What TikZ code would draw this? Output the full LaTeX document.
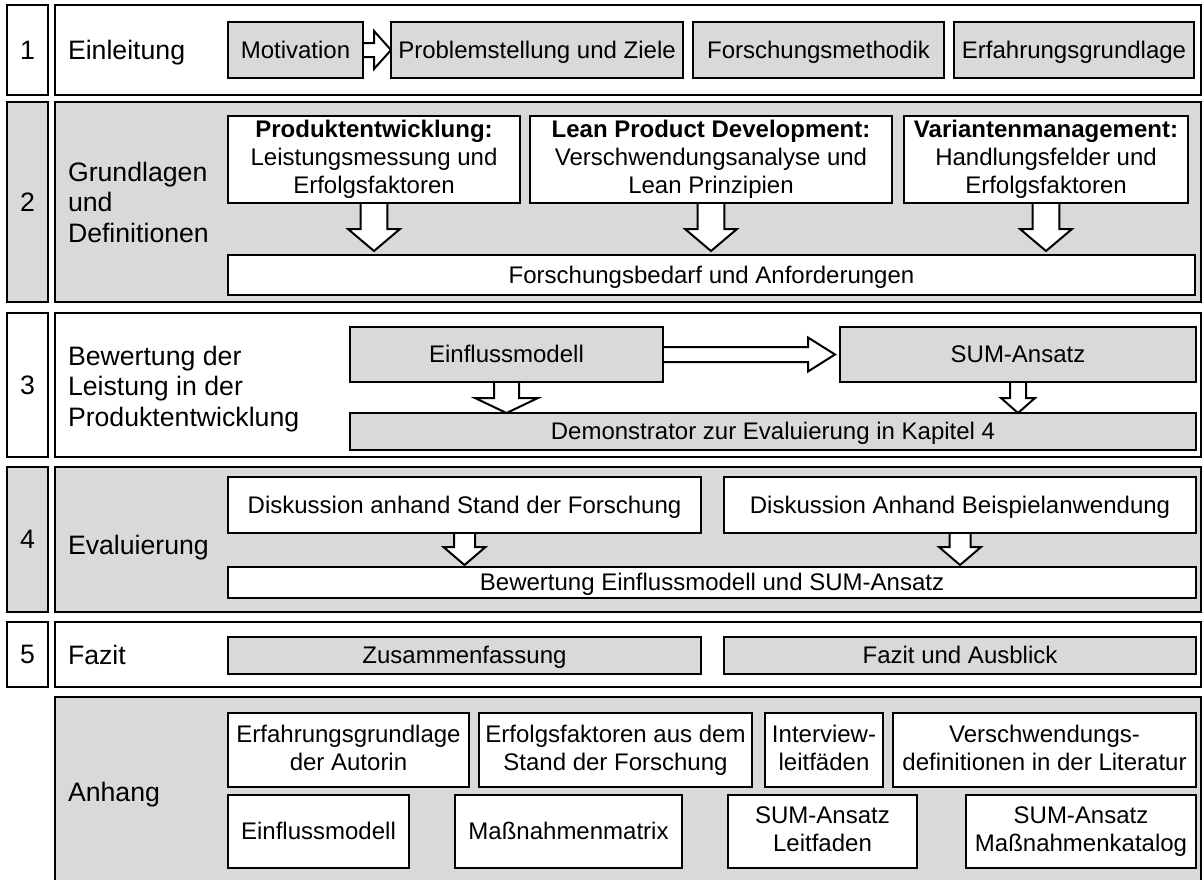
\documentclass[tikz,border=0pt]{standalone}
\usepackage{fontspec}
\setmainfont{Liberation Sans}
\usetikzlibrary{calc}
\definecolor{panelgray}{RGB}{217,217,217}

% struts giving every line the same ascent/descent so text sits centred
\newcommand\mystrut{\rule[-5.2pt]{0pt}{27.2pt}}
\newcommand\bigstrut{\rule[-5.8pt]{0pt}{30.2pt}}

% rectangle node from its corner coordinates: style, name, x1, y1, x2, y2, text
\newcommand\boxnode[7]{%
  \node[#1, minimum width={#5-#3}, minimum height={#6-#4}] (#2)
    at ({(#3+#5)/2},{(#4+#6)/2}) {#7};}

% white block arrow pointing down: start, tip, half shaft, half head, head length
\newcommand\downblock[5]{%
  \draw[blockarrow] let \p1=(#1), \p2=(#2) in
    (\x1-#3pt,\y1-1pt) -- (\x1-#3pt,\y2+#5pt) -- (\x1-#4pt,\y2+#5pt) --
    (\x1,\y2) -- (\x1+#4pt,\y2+#5pt) -- (\x1+#3pt,\y2+#5pt) -- (\x1+#3pt,\y1-1pt);}

% white block arrow pointing right: start, tip, half shaft, half head, head length
\newcommand\rightblock[5]{%
  \draw[blockarrow] let \p1=(#1), \p2=(#2) in
    (\x1+1pt,\y1+#3pt) -- (\x2-#5pt,\y1+#3pt) -- (\x2-#5pt,\y1+#4pt) --
    (\x2,\y1) -- (\x2-#5pt,\y1-#4pt) -- (\x2-#5pt,\y1-#3pt) -- (\x1+1pt,\y1-#3pt);}

\tikzset{
  every node/.style={inner sep=0pt, outer sep=0pt,
    font=\fontsize{24}{28}\selectfont, text=black},
  frame/.style={draw=black, line width=2pt, rectangle},
  whiteframe/.style={frame, fill=white},
  grayframe/.style={frame, fill=panelgray},
  whitebox/.style={frame, fill=white, align=center,
    execute at begin node=\mystrut, execute at end node=\mystrut},
  graybox/.style={whitebox, fill=panelgray},
  numbox/.style={frame, fill=#1, font=\fontsize{26.67}{30.7}\selectfont,
    execute at begin node=\bigstrut},
  lbl/.style={anchor=west, align=left, font=\fontsize{26.67}{30.7}\selectfont,
    execute at begin node=\bigstrut, execute at end node=\bigstrut},
  blockarrow/.style={draw=black, fill=white, line width=2pt, line join=miter},
}

\begin{document}
\begin{tikzpicture}[x=1pt, y=-1pt]
\useasboundingbox (0,0) rectangle (1204,879);
\fill[white] (0,0) rectangle (1204,879);

% ---- chapter frames ----
\boxnode{numbox=white}{n1}{7}{5}{48}{95}{1}
\boxnode{whiteframe}{r1}{55}{5}{1201}{95}{}
\boxnode{numbox=panelgray}{n2}{7}{102}{48}{302}{2}
\boxnode{grayframe}{r2}{55}{102}{1201}{302}{}
\boxnode{numbox=white}{n3}{7}{313}{48}{457}{3}
\boxnode{whiteframe}{r3}{55}{313}{1201}{457}{}
\boxnode{numbox=panelgray}{n4}{7}{467}{48}{612}{4}
\boxnode{grayframe}{r4}{55}{467}{1201}{612}{}
\boxnode{numbox=white}{n5}{7}{622}{48}{687}{5}
\boxnode{whiteframe}{r5}{55}{622}{1201}{687}{}
\boxnode{grayframe}{an}{55}{697}{1201}{905}{}

% ---- chapter titles ----
\node[lbl] (t1) at (68,50) {Einleitung};
\node[lbl] (t2) at (68,205) {Grundlagen\\und\\Definitionen};
\node[lbl] (t3) at (68,389) {Bewertung der\\Leistung in der\\Produktentwicklung};
\node[lbl] (t4) at (68,545) {Evaluierung};
\node[lbl] (t5) at (68,655) {Fazit};
\node[lbl] (t6) at (68,792) {Anhang};

% ---- 1 Einleitung ----
\boxnode{graybox}{mot}{228}{22}{363}{78}{Motivation}
\boxnode{graybox}{prob}{391}{22}{683}{78}{Problemstellung und Ziele}
\boxnode{graybox}{meth}{693}{22}{944}{78}{Forschungsmethodik}
\boxnode{graybox}{erf}{954}{22}{1194}{78}{Erfahrungsgrundlage}
\rightblock{mot.east}{prob.west}{7}{19}{17}

% ---- 2 Grundlagen ----
\boxnode{whitebox}{pe}{228}{116}{520}{203}{\textbf{Produktentwicklung:}\\Leistungsmessung und\\Erfolgsfaktoren}
\boxnode{whitebox}{lpd}{530}{116}{892}{203}{\textbf{Lean Product Development:}\\Verschwendungsanalyse und\\Lean Prinzipien}
\boxnode{whitebox}{vm}{904}{116}{1188}{203}{\textbf{Variantenmanagement:}\\Handlungsfelder und\\Erfolgsfaktoren}
\boxnode{whitebox}{fb}{228}{255}{1195}{295}{Forschungsbedarf und Anforderungen}
\downblock{pe.south}{$(fb.north -| pe.south)+(0,-4)$}{13.3}{26}{22}
\downblock{lpd.south}{$(fb.north -| lpd.south)+(0,-4)$}{13.3}{26}{22}
\downblock{vm.south}{$(fb.north -| vm.south)+(0,-4)$}{13.3}{26}{22}

% ---- 3 Bewertung ----
\boxnode{graybox}{einf}{350}{327}{663}{382}{Einflussmodell}
\boxnode{graybox}{sum}{840}{327}{1196}{382}{SUM-Ansatz}
\boxnode{graybox}{demo}{350}{413}{1196}{450}{Demonstrator zur Evaluierung in Kapitel 4}
\rightblock{einf.east}{$(sum.west)+(-5,0)$}{7.5}{17}{27}
\downblock{einf.south}{demo.north -| einf.south}{12.5}{31.5}{15}
\downblock{sum.south}{demo.north -| sum.south}{8}{17}{15}

% ---- 4 Evaluierung ----
\boxnode{whitebox}{dsf}{228}{477}{701}{533}{Diskussion anhand Stand der Forschung}
\boxnode{whitebox}{dba}{724}{477}{1196}{533}{Diskussion Anhand Beispielanwendung}
\boxnode{whitebox}{bew}{228}{567}{1196}{598}{Bewertung Einflussmodell und SUM-Ansatz}
\downblock{dsf.south}{$(bew.north -| dsf.south)+(0,-2)$}{10.5}{21}{18}
\downblock{dba.south}{$(bew.north -| dba.south)+(0,-2)$}{10.5}{21}{18}

% ---- 5 Fazit ----
\boxnode{graybox}{zus}{228}{637}{701}{674}{Zusammenfassung}
\boxnode{graybox}{aus}{724}{637}{1196}{674}{Fazit und Ausblick}

% ---- Anhang ----
\boxnode{whitebox}{a1}{228}{713}{469}{787}{Erfahrungsgrundlage\\der Autorin}
\boxnode{whitebox}{a2}{479}{713}{752}{787}{Erfolgsfaktoren aus dem\\Stand der Forschung}
\boxnode{whitebox}{a3}{765}{713}{883}{787}{Interview-\\leitfäden}
\boxnode{whitebox}{a4}{893}{713}{1196}{787}{Verschwendungs-\\definitionen in der Literatur}
\boxnode{whitebox}{b1}{228}{795}{409}{868}{Einflussmodell}
\boxnode{whitebox}{b2}{455}{795}{682}{868}{Maßnahmenmatrix}
\boxnode{whitebox}{b3}{728}{795}{917}{868}{SUM-Ansatz\\Leitfaden}
\boxnode{whitebox}{b4}{966}{795}{1196}{868}{SUM-Ansatz\\Maßnahmenkatalog}
\end{tikzpicture}
\end{document}
